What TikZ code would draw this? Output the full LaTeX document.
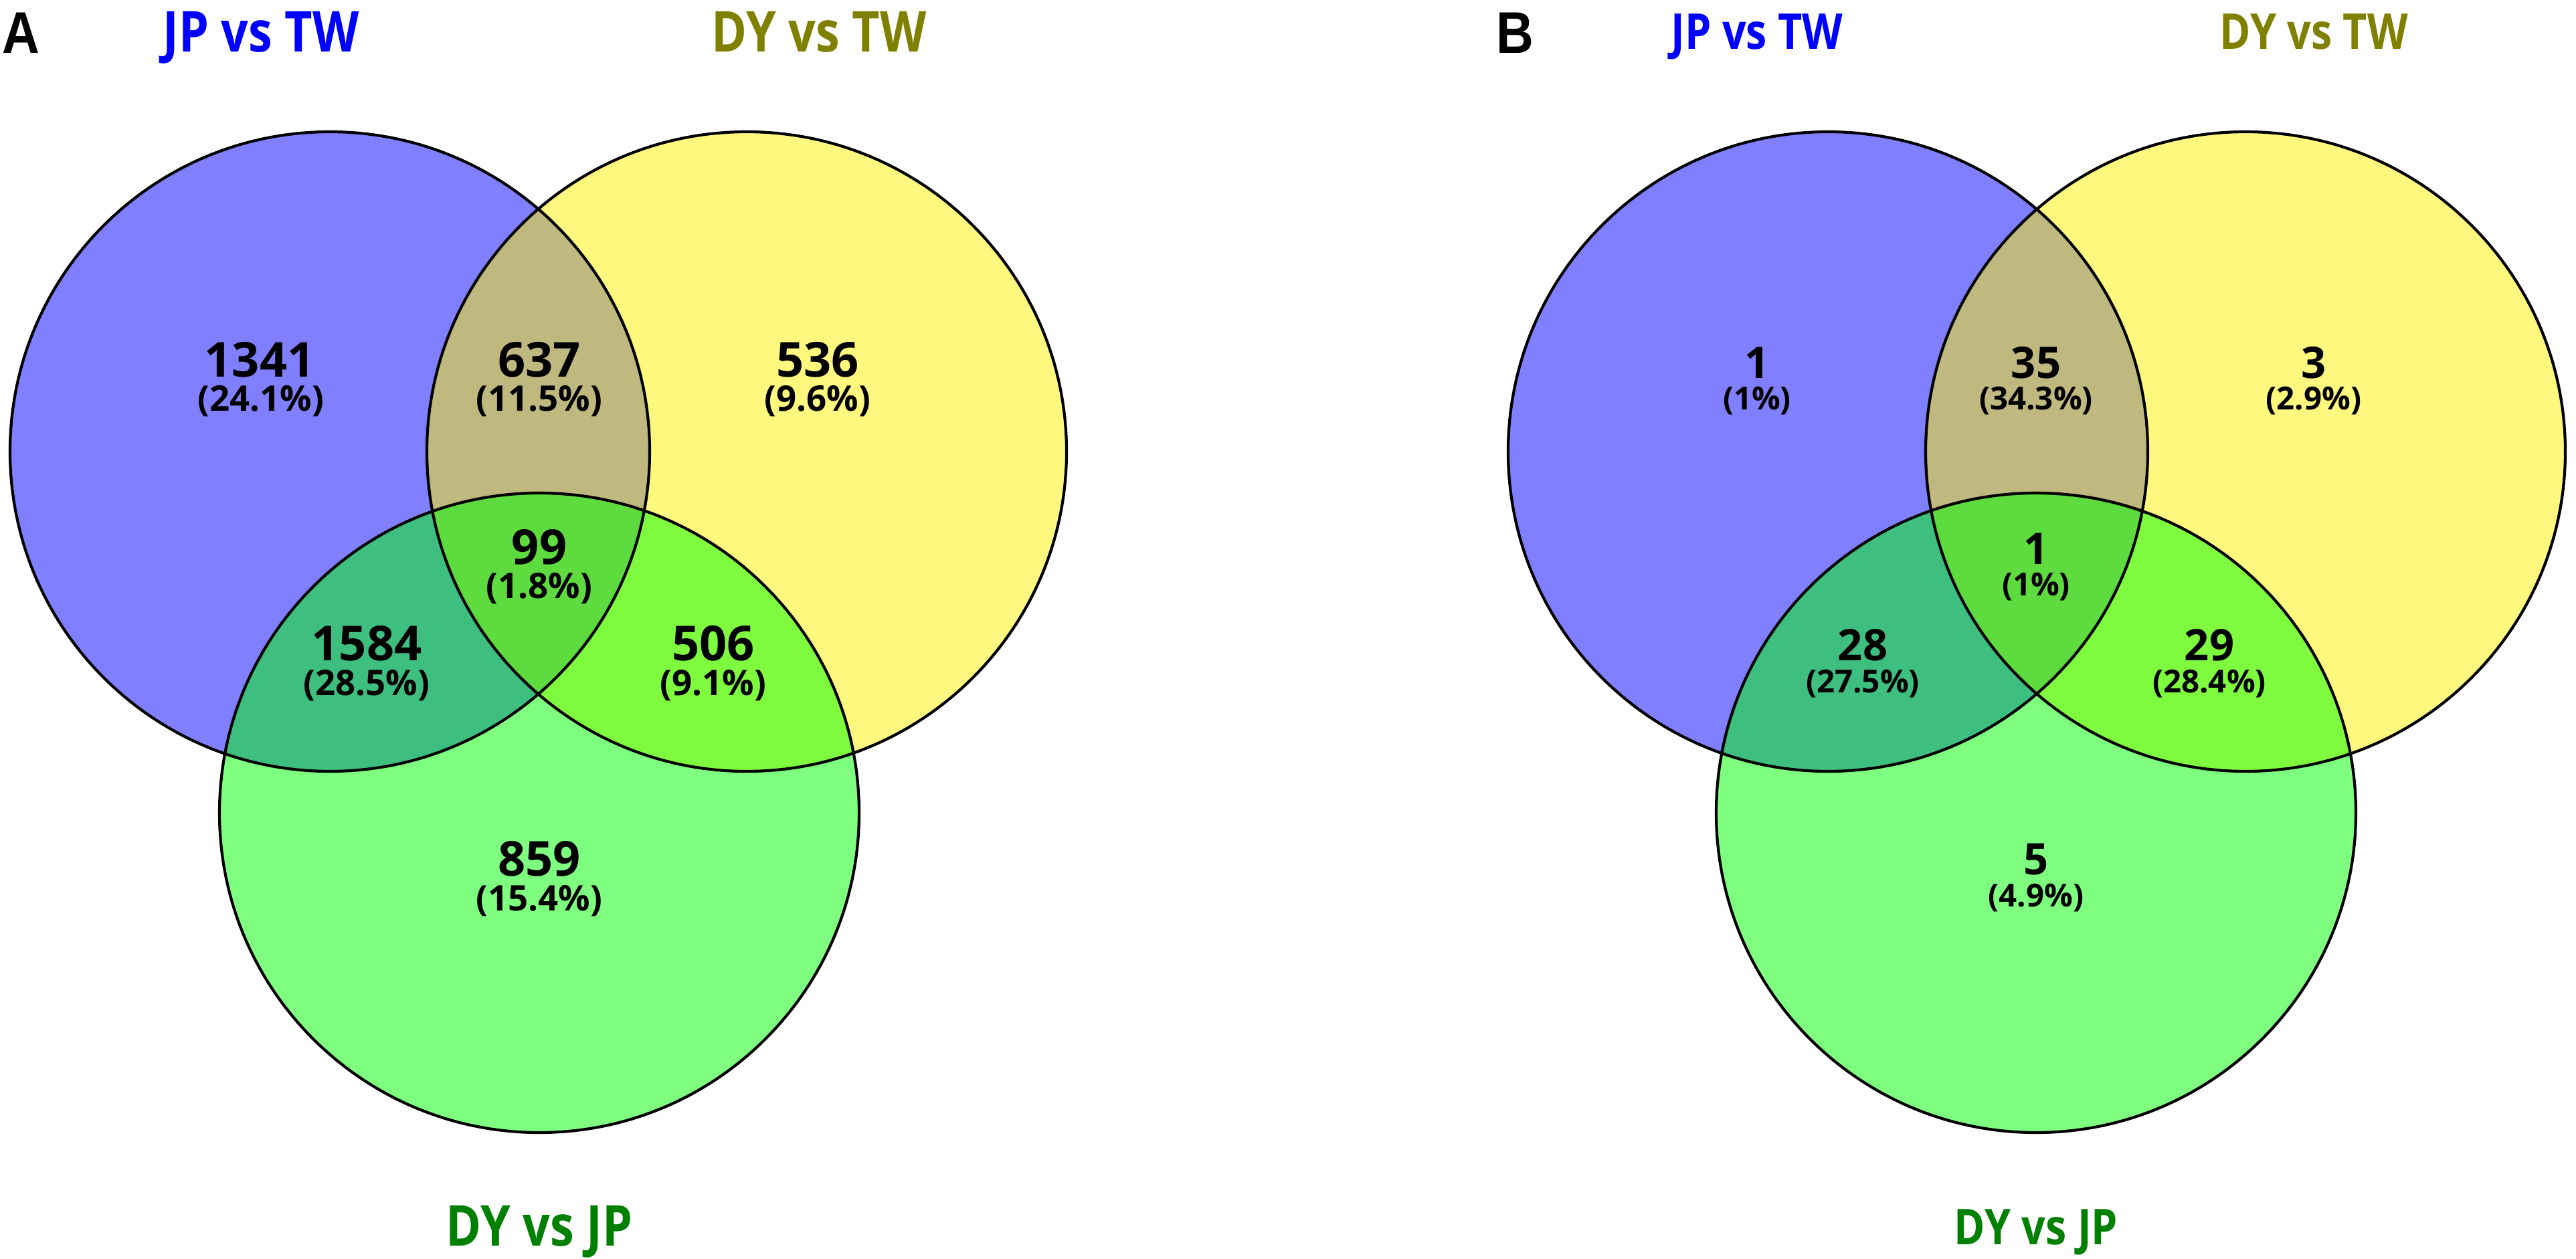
\documentclass[tikz,border=0pt]{standalone}
\usepackage{fontspec}
\setmainfont{Open Sans}
\newfontfamily\labfont{Open Sans}[FakeStretch=0.85]
\newfontfamily\panelfont{Liberation Sans}[FakeStretch=0.88]
\definecolor{olivelab}{RGB}{128,128,0}
\definecolor{greenlab}{RGB}{0,128,0}
\begin{document}
\begin{tikzpicture}[x=1cm,y=1cm]
\tikzset{
  numA/.style={font=\bfseries\fontsize{20.5}{24}\selectfont, anchor=base, inner sep=0pt},
  pctA/.style={font=\bfseries\fontsize{15}{18}\selectfont, anchor=base, inner sep=0pt},
  numB/.style={font=\bfseries\fontsize{18.5}{22}\selectfont, anchor=base, inner sep=0pt},
  pctB/.style={font=\bfseries\fontsize{13.5}{16}\selectfont, anchor=base, inner sep=0pt},
  setlabA/.style={font=\labfont\bfseries\fontsize{24}{28}\selectfont, anchor=base, inner sep=0pt},
  setlabB/.style={font=\labfont\bfseries\fontsize{21}{25}\selectfont, anchor=base, inner sep=0pt},
  panellab/.style={font=\panelfont\bfseries\fontsize{25}{29}\selectfont, anchor=base, inner sep=0pt},
  vennline/.style={line width=0.042cm, draw=black},
  vennfill/.style={fill opacity=0.5}
}
\useasboundingbox (0,0) rectangle (38.5,-18.82);
\def\R{4.78}
% centres
\coordinate (BA) at (4.93,-6.75);
\coordinate (YA) at (11.16,-6.75);
\coordinate (GA) at (8.06,-12.15);
\coordinate (BB) at (27.32,-6.75);
\coordinate (YB) at (33.56,-6.75);
\coordinate (GB) at (30.43,-12.15);
% fills
\foreach \b/\y/\g in {BA/YA/GA, BB/YB/GB}{
  \fill[blue, vennfill] (\b) circle (\R);
  \fill[yellow, vennfill] (\y) circle (\R);
  \fill[green, vennfill] (\g) circle (\R);
  \draw[vennline] (\b) circle (\R);
  \draw[vennline] (\y) circle (\R);
  \draw[vennline] (\g) circle (\R);
}
% Panel A labels
\node[panellab] (pA) at (0.31,-0.79) {A};
\node[setlabA, text=blue] (lA1) at (3.90,-0.77) {JP vs TW};
\node[setlabA, text=olivelab] (lA2) at (12.24,-0.77) {DY vs TW};
\node[setlabA, text=greenlab] (lA3) at (8.06,-18.62) {DY vs JP};
% Panel A numbers
\node[numA] (a1) at (3.88,-5.63) {1341};
\node[pctA] (a1p) at (3.90,-6.14) {(24.1\%)};
\node[numA] (a2) at (8.06,-5.63) {637};
\node[pctA] (a2p) at (8.06,-6.14) {(11.5\%)};
\node[numA] (a3) at (12.22,-5.63) {536};
\node[pctA] (a3p) at (12.22,-6.14) {(9.6\%)};
\node[numA] (a4) at (8.06,-8.43) {99};
\node[pctA] (a4p) at (8.06,-8.94) {(1.8\%)};
\node[numA] (a5) at (5.48,-9.87) {1584};
\node[pctA] (a5p) at (5.48,-10.39) {(28.5\%)};
\node[numA] (a6) at (10.66,-9.87) {506};
\node[pctA] (a6p) at (10.66,-10.39) {(9.1\%)};
\node[numA] (a7) at (8.06,-13.09) {859};
\node[pctA] (a7p) at (8.06,-13.61) {(15.4\%)};
% Panel B labels
\node[panellab] (pB) at (22.64,-0.79) {B};
\node[setlabB, text=blue] (lB1) at (26.26,-0.73) {JP vs TW};
\node[setlabB, text=olivelab] (lB2) at (34.58,-0.73) {DY vs TW};
\node[setlabB, text=greenlab] (lB3) at (30.43,-18.60) {DY vs JP};
% Panel B numbers
\node[numB] (b1) at (26.26,-5.65) {1};
\node[pctB] (b1p) at (26.26,-6.12) {(1\%)};
\node[numB] (b2) at (30.43,-5.65) {35};
\node[pctB] (b2p) at (30.43,-6.12) {(34.3\%)};
\node[numB] (b3) at (34.58,-5.65) {3};
\node[pctB] (b3p) at (34.58,-6.12) {(2.9\%)};
\node[numB] (b4) at (30.43,-8.43) {1};
\node[pctB] (b4p) at (30.43,-8.90) {(1\%)};
\node[numB] (b5) at (27.84,-9.87) {28};
\node[pctB] (b5p) at (27.84,-10.35) {(27.5\%)};
\node[numB] (b6) at (33.02,-9.87) {29};
\node[pctB] (b6p) at (33.02,-10.35) {(28.4\%)};
\node[numB] (b7) at (30.43,-13.07) {5};
\node[pctB] (b7p) at (30.43,-13.55) {(4.9\%)};
\end{tikzpicture}
\end{document}
